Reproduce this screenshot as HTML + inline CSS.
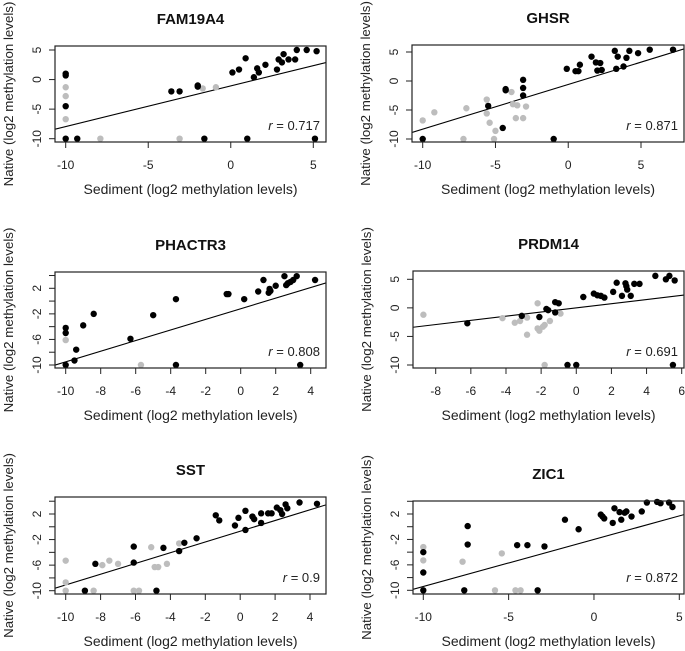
<!DOCTYPE html>
<html><head><meta charset="utf-8"><style>
html,body{margin:0;padding:0;background:#fff;}
svg{display:block;font-family:"Liberation Sans",Arial,sans-serif;}
</style></head><body>
<svg id="chart" width="685" height="651" viewBox="0 0 685 651" xmlns="http://www.w3.org/2000/svg"></svg>
<script>
// ===== Data =====
const panelTitles = ["FAM19A4","GHSR","PHACTR3","PRDM14","SST","ZIC1"];
const rValues = ["0.717","0.871","0.808","0.691","0.9","0.872"];
const lineIntercepts = [-1.08,-0.6,-1.2,0.0,-0.7,-2.0];
const lineSlopes = [0.687,0.77,0.83,0.365,0.84,0.74];
const xTicks = [[-10,-5,0,5],[-10,-5,0,5],[-10,-8,-6,-4,-2,0,2,4],[-8,-6,-4,-2,0,2,4,6],[-10,-8,-6,-4,-2,0,2,4],[-10,-5,0,5]];
const yTicks = [[5,0,-5,-10],[5,0,-5,-10],[4,2,0,-2,-4,-6,-8,-10],[5,0,-5,-10],[4,2,0,-2,-4,-6,-8,-10],[4,2,0,-2,-4,-6,-8,-10]];
const yTickLabels = [["5","0","-5","-10"],["5","0","-5","-10"],["","2","","-2","","-6","","-10"],["5","0","-5","-10"],["","2","","-2","","-6","","-10"],["","2","","-2","","-6","","-10"]];

const blackX1 = [-10,-10,-10,-10,-9.3,-3.6,-3.1,-2,-2,0.1,0.5,0.9,1.4,1.6,1.7,2.1,2.8,2.9,3.1,3.2,3.5,3.9,4.0,4.6,5.2,-1.6,1.0,5.1];
const blackY1 = [1,0.7,-4.5,-10,-10,-2,-2,-1,-1.2,1.2,1.7,3.6,0.4,1.9,1.2,2.5,1.7,3.4,2.9,4.3,3.4,3.4,5,5,4.8,-10,-10,-10];
const grayX1 = [-10,-10,-10,-7.9,-3.1,-1.7,-0.9];
const grayY1 = [-1.3,-2.8,-6.7,-10,-10,-1.5,-1.3];

const blackX2 = [-10,-5.5,-4.3,-4.3,-4.5,-3.1,-3.1,-3.1,-1,-0.1,0.5,0.7,0.8,1.6,1.9,2.0,2.2,2.3,3.2,3.3,3.4,3.8,4.0,4.2,4.8,5.6,7.2];
const blackY2 = [-10,-4.3,-1.4,-1.6,-8.1,0.2,-1.2,-2.5,-10,2.1,1.7,1.7,2.8,4.2,3.2,1.8,3.1,1.9,5.2,2.1,4.2,2.5,4.0,5.2,4.8,5.4,5.4];
const grayX2 = [-10,-9.2,-7,-7.2,-5.6,-5.6,-5.4,-5,-5.1,-3.9,-3.8,-3.5,-3.6,-3.1,-2.9];
const grayY2 = [-6.8,-5.4,-4.7,-10,-3.2,-5.6,-7.2,-8.6,-10,-1.9,-4,-4.2,-6.4,-6.4,-4.4];

const blackX3 = [-10,-10,-10,-9.5,-9.4,-9,-8.4,-6.3,-5,-3.7,-3.7,-0.8,-0.7,0.2,1,1.3,1.6,1.65,1.7,2,2.5,2.6,2.7,2.85,3,3.2,3.4,4.25];
const blackY3 = [-4.2,-5,-10,-9.3,-7.6,-3.8,-2,-5.9,-2.2,0.3,-10,1.1,1.1,0.3,1.5,3.3,1.3,1.9,1.6,2.4,3.9,2.5,2.8,3,3.3,3.9,-10,3.3];
const grayX3 = [-10,-5.7];
const grayY3 = [-6.1,-10];

const blackX4 = [-6.2,-3.1,-2.1,-1.7,-1.6,-1.2,-1.2,-1,-0.5,0,0.4,1,1.2,1.4,1.6,2.1,2.3,2.6,2.8,2.85,2.9,3.1,3.3,3.6,4.5,5.1,5.3,5.6,5.5];
const blackY4 = [-2.7,-1.4,-1.6,-0.2,-0.4,-0.8,1,0.8,-10,-10,1.9,2.5,2.2,2.1,1.8,2.8,4.4,2.1,4.3,3.8,3.2,2.1,4.2,4.2,5.6,5,5.6,4.8,-10];
const grayX4 = [-8.7,-4.2,-3.5,-3.2,-2.8,-2.8,-2.2,-2.2,-2.1,-1.9,-1.8,-1.8,-1.5,-0.9];
const grayY4 = [-1.2,-1.8,-2.6,-2.3,-1.7,-4.7,0.8,-3.6,-4,-3.3,-3,-10,-2.3,-1];

const blackX5 = [-8.9,-8.3,-6.1,-6.1,-4.8,-4.4,-3.5,-3.2,-2.5,-1.4,-1.2,-0.3,-0.1,0.3,0.3,0.7,0.8,1.2,1.2,1.6,1.8,2.1,2.3,2.4,2.6,2.7,3.4,4.4];
const blackY5 = [-10,-5.8,-3.1,-5.6,-10,-3.3,-3.8,-2.5,-1.8,1.8,1,0.2,1.4,-0.5,2.5,1.6,1.2,2.1,0.6,2.1,2.1,3,2.6,2,3.5,2.9,3.8,3.6];
const grayX5 = [-10,-10,-10,-8.4,-7.9,-7.5,-7,-6.1,-5.8,-5.1,-4.9,-4.7,-4.2,-3.5];
const grayY5 = [-5.3,-8.7,-10,-10,-6,-5.3,-5.8,-10,-10,-3.2,-6.3,-6.3,-5.8,-2.6];

const blackX6 = [-10,-10,-10,-7.6,-7.4,-7.4,-4.5,-3.9,-3.3,-2.9,-1.7,-0.9,0.4,0.5,0.6,1.1,1.2,1.5,1.6,1.8,1.9,2.2,2.8,3.1,3.7,3.9,4.4,4.6];
const blackY6 = [-4,-7.2,-10,-10,-2.8,0.1,-2.9,-2.9,-10,-3.1,1.1,-0.4,1.9,1.6,1.3,0.6,2.9,2.3,1.1,2.2,2.4,1.6,2.4,3.8,3.9,3.7,3.8,3.1];
const grayX6 = [-10,-10,-7.7,-5.4,-5.8,-4.6,-4.3];
const grayY6 = [-3.2,-5.3,-5.5,-4.2,-10,-10,-10];

const blackXs=[blackX1,blackX2,blackX3,blackX4,blackX5,blackX6];
const blackYs=[blackY1,blackY2,blackY3,blackY4,blackY5,blackY6];
const grayXs=[grayX1,grayX2,grayX3,grayX4,grayX5,grayX6];
const grayYs=[grayY1,grayY2,grayY3,grayY4,grayY5,grayY6];

// ===== Layout (pixels) =====
const boxes=[[55,46,326,142],[412,45,684,142],[55,272,326,368],[413,271,684,368],[55,497,326,594],[413,501,684,594]];
const xCal=[[-10,65.7,5,313.3],[-10,422.7,5,641],[-10,65.7,4,310.7],[-8,435.7,6,681.7],[-10,65.7,4,310],[-10,423.3,5,679.3]];
const yCal=[[5,50,-10,138.7],[5,52,-10,139],[2,288.3,-10,365],[5,279.3,-10,365],[2,514,-10,590.7],[2,514,-10,590.3]];

const svg=document.getElementById('chart');
const NS='http://www.w3.org/2000/svg';
function mk(tag,attrs,parent){const e=document.createElementNS(NS,tag);for(const k in attrs)e.setAttribute(k,attrs[k]);(parent||svg).appendChild(e);return e;}
function lin(c){return v=>c[1]+(v-c[0])*(c[3]-c[1])/(c[2]-c[0]);}

for(let p=0;p<6;p++){
  const [L,T,R,B]=boxes[p];
  const sx=lin(xCal[p]), sy=lin(yCal[p]);
  const g=mk('g',{});
  
  
  const cx=(L+R)/2, cy=(T+B)/2;
  const t=mk('text',{x:cx,y:T-22,'text-anchor':'middle','font-size':'15','font-weight':'bold',fill:'#111'},g);
  t.textContent=panelTitles[p];
  
  
  const xl=mk('text',{x:cx,y:B+52,'text-anchor':'middle','font-size':'14',fill:'#222'},g);
  xl.textContent='Sediment (log2 methylation levels)';
  
  
  const ylx=L-42;
  const yl=mk('text',{x:ylx,y:cy,'text-anchor':'middle','font-size':'13.3',fill:'#222',transform:`rotate(-90 ${ylx} ${cy})`},g);
  yl.textContent='Native (log2 methylation levels)';
  
  
  xTicks[p].forEach(v=>{
    const x=sx(v);
    const tk=mk('line',{x1:x,x2:x,y1:B,y2:B+6,stroke:'#222','stroke-width':1},g);
    
    
    const lb=mk('text',{x:x,y:B+27,'text-anchor':'middle','font-size':'12',fill:'#222'},g);
    lb.textContent=String(v);
    
    
  });
  yTicks[p].forEach((v,i)=>{
    const y=sy(v);
    const tk=mk('line',{x1:L-6,x2:L,y1:y,y2:y,stroke:'#222','stroke-width':1},g);
    
    
    const s=yTickLabels[p][i];
    if(s){
      const tx=L-14;
      const lb=mk('text',{x:tx,y:y,'text-anchor':'middle','font-size':'12',fill:'#222',transform:`rotate(-90 ${tx} ${y})`},g);
      lb.textContent=s;
      
      
    }
  });
  const cp=mk('clipPath',{id:'clip'+p},g);
  mk('rect',{x:L,y:T,width:R-L,height:B-T},cp);
  const lg=mk('g',{'clip-path':`url(#clip${p})`},g);
  const xa=xCal[p][0]+(L-xCal[p][1])*(xCal[p][2]-xCal[p][0])/(xCal[p][3]-xCal[p][1]);
  const xb=xCal[p][0]+(R-xCal[p][1])*(xCal[p][2]-xCal[p][0])/(xCal[p][3]-xCal[p][1]);
  const ln=mk('line',{x1:sx(xa),y1:sy(lineIntercepts[p]+lineSlopes[p]*xa),x2:sx(xb),y2:sy(lineIntercepts[p]+lineSlopes[p]*xb),stroke:'#000','stroke-width':1.1},lg);
  
  
  grayXs[p].forEach((v,i)=>{
    const c=mk('circle',{cx:sx(v),cy:sy(grayYs[p][i]),r:3.2,fill:'#bdbdbd'},g);
    
    
  });
  blackXs[p].forEach((v,i)=>{
    const c=mk('circle',{cx:sx(v),cy:sy(blackYs[p][i]),r:3.2,fill:'#000'},g);
    
    
  });
  const bx=mk('rect',{x:L,y:T,width:R-L,height:B-T,fill:'none',stroke:'#222','stroke-width':1.2},g);
  
  
  const rt=mk('text',{x:R-6,y:B-12,'text-anchor':'end','font-size':'13',fill:'#222'},g);
  rt.innerHTML='<tspan font-style="italic">r</tspan> = '+rValues[p];
  
  
}
</script>
</body></html>
